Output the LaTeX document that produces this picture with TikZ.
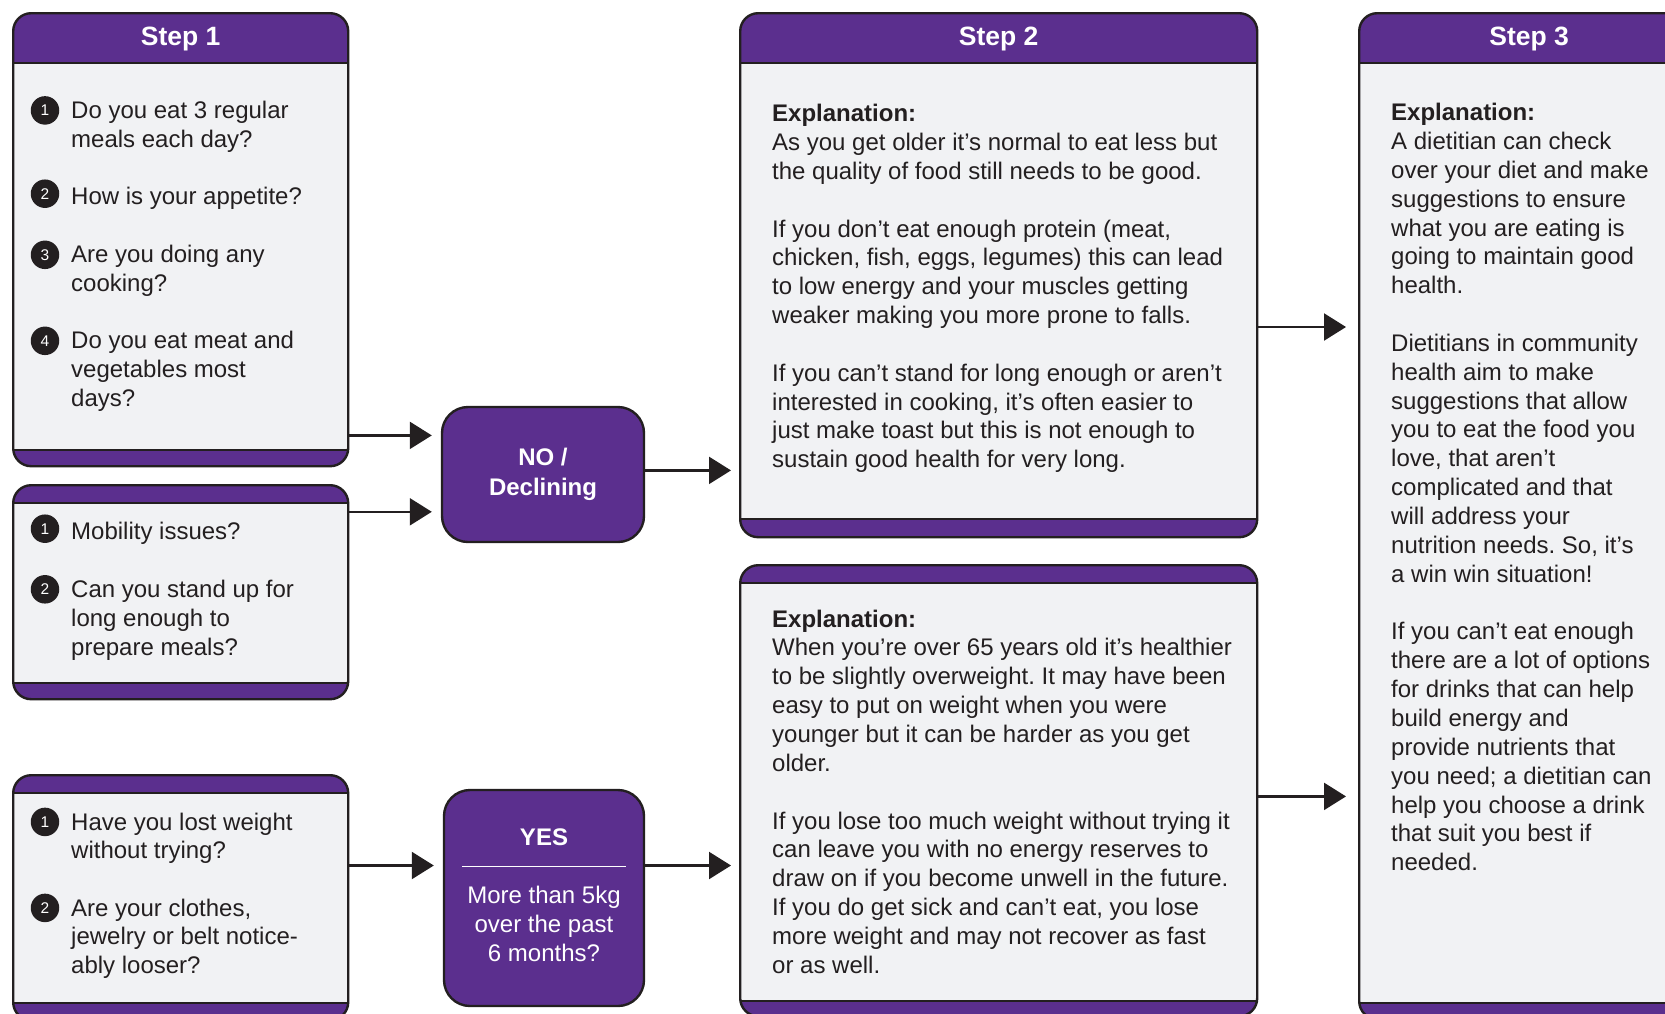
\documentclass[tikz,border=0pt]{standalone}
\usepackage{fontspec}
\setmainfont{Liberation Sans}
\usepackage{tikz}
\definecolor{kbPurple}{HTML}{5B2F8E}
\definecolor{kbBody}{HTML}{F1F2F4}
\definecolor{kbEdge}{HTML}{231F20}
\usetikzlibrary{positioning,arrows.meta}
\frenchspacing

\tikzset{
  top band/.store in=\cardtop, bottom band/.store in=\cardbot,
  card/.style={draw=kbEdge,fill=kbBody,line width=2.4pt,rounded corners=18pt,inner sep=0pt,anchor=north west,top band=18pt,bottom band=16pt,
    path picture={
      \fill[kbPurple,sharp corners] (path picture bounding box.north west) rectangle ([yshift=-\cardtop]path picture bounding box.north east);
      \fill[kbPurple,sharp corners] (path picture bounding box.south west) rectangle ([yshift=\cardbot]path picture bounding box.south east);
      \draw[kbEdge,line width=2pt,sharp corners] ([yshift=-\cardtop]path picture bounding box.north west) -- ([yshift=-\cardtop]path picture bounding box.north east);
      \draw[kbEdge,line width=2pt,sharp corners] ([yshift=\cardbot]path picture bounding box.south west) -- ([yshift=\cardbot]path picture bounding box.south east);
    }},
  num/.style={circle,fill=kbEdge,text=white,minimum size=28.5pt,inner sep=0pt,font=\fontsize{15.5}{15.5}\selectfont},
  item/.style={anchor=north west,align=left,inner sep=0pt,execute at begin node=\strut},
  headtxt/.style={anchor=base,text=white,inner sep=0pt,font=\bfseries\fontsize{26.5}{30}\selectfont},
  decide/.style={draw=kbEdge,fill=kbPurple,line width=2.4pt,rounded corners=26pt,text=white,align=center,inner sep=0pt,font=\bfseries\fontsize{24}{29.7}\selectfont},
  link/.style={->,line width=2.2pt,draw=kbEdge}
}

\begin{document}
\begin{tikzpicture}[x=1pt,y=-1pt,font=\fontsize{24}{28.85}\selectfont,text=kbEdge,>={Triangle[length=22pt,width=27pt]}]
\useasboundingbox[fill=white] (0,0) rectangle (1665,1013);

% panels
\node[card,top band=50pt,minimum width=335pt,minimum height=453pt] (step1) at (12,12) {};
\node[card,minimum width=335pt,minimum height=214pt] (mob) at (12,484) {};
\node[card,bottom band=17pt,minimum width=335pt,minimum height=245pt] (wt) at (12,774) {};
\node[card,top band=50pt,bottom band=18pt,minimum width=517pt,minimum height=524pt] (step2) at (739,12) {};
\node[card,bottom band=15pt,minimum width=517pt,minimum height=451pt] (wtexp) at (739,564) {};
\node[card,top band=50pt,minimum width=340pt,minimum height=1006pt] (step3) at (1358,12) {};

\node[headtxt] (h1) at (step1.north |- 0,45.7) {Step 1};
\node[headtxt] (h2) at (step2.north |- 0,45.7) {Step 2};
\node[headtxt] (h3) at (step3.north |- 0,45.7) {Step 3};

% questions
\node[item] (a1) at (71,100.9) {Do you eat 3 regular\\meals each day?};
\node[item] (a2) at (71,184.2) {How is your appetite?};
\node[item] (a3) at (71,245.3) {Are you doing any\\cooking?};
\node[item] (a4) at (71,331.3) {Do you eat meat and\\vegetables most\\days?};
\node[item] (b1) at (71,519.2) {Mobility issues?};
\node[item] (b2) at (71,579.8) {Can you stand up for\\long enough to\\prepare meals?};
\node[item] (c1) at (71,812.4) {Have you lost weight\\without trying?};
\node[item] (c2) at (71,898.4) {Are your clothes,\\jewelry or belt notice-\\ably looser?};

\node[num] (na1) at ([xshift=-26pt,yshift=-9.5pt]a1.north west) {1};
\node[num] (na2) at ([xshift=-26pt,yshift=-9.5pt]a2.north west) {2};
\node[num] (na3) at ([xshift=-26pt,yshift=-9.5pt]a3.north west) {3};
\node[num] (na4) at ([xshift=-26pt,yshift=-9.5pt]a4.north west) {4};
\node[num] (nb1) at ([xshift=-26pt,yshift=-9.5pt]b1.north west) {1};
\node[num] (nb2) at ([xshift=-26pt,yshift=-9.5pt]b2.north west) {2};
\node[num] (nc1) at ([xshift=-26pt,yshift=-9.5pt]c1.north west) {1};
\node[num] (nc2) at ([xshift=-26pt,yshift=-9.5pt]c2.north west) {2};

% answers
\node[decide,minimum width=202pt,minimum height=135pt] (declining) at (543,474.5) {NO /\\Declining};
\node[decide,minimum width=200pt,minimum height=216pt] (yes) at (544,898) {};
\node[anchor=base,text=white,inner sep=0pt,font=\bfseries\fontsize{24}{28.85}\selectfont] (yeshead) at (yes.center |- 0,845.5) {YES};
\draw[white,line width=1.5pt] (462,866.5) -- (626,866.5);
\node[item,anchor=north,align=center,text=white] (yestxt) at (544,886) {More than 5kg\\over the past\\6 months?};

% explanations
\node[item] (exp2) at (772,104) {\textbf{Explanation:}\\
As you get older it’s normal to eat less but\\
the quality of food still needs to be good.\\[28.85pt]
If you don’t eat enough protein (meat,\\
chicken, fish, eggs, legumes) this can lead\\
to low energy and your muscles getting\\
weaker making you more prone to falls.\\[28.85pt]
If you can’t stand for long enough or aren’t\\
interested in cooking, it’s often easier to\\
just make toast but this is not enough to\\
sustain good health for very long.};
\node[item] (expw) at (772,609.5) {\textbf{Explanation:}\\
When you’re over 65 years old it’s healthier\\
to be slightly overweight. It may have been\\
easy to put on weight when you were\\
younger but it can be harder as you get\\
older.\\[28.85pt]
If you lose too much weight without trying it\\
can leave you with no energy reserves to\\
draw on if you become unwell in the future.\\
If you do get sick and can’t eat, you lose\\
more weight and may not recover as fast\\
or as well.};
\node[item] (exp3) at (1391,103) {\textbf{Explanation:}\\
A dietitian can check\\
over your diet and make\\
suggestions to ensure\\
what you are eating is\\
going to maintain good\\
health.\\[28.85pt]
Dietitians in community\\
health aim to make\\
suggestions that allow\\
you to eat the food you\\
love, that aren’t\\
complicated and that\\
will address your\\
nutrition needs. So, it’s\\
a win win situation!\\[28.85pt]
If you can’t eat enough\\
there are a lot of options\\
for drinks that can help\\
build energy and\\
provide nutrients that\\
you need; a dietitian can\\
help you choose a drink\\
that suit you best if\\
needed.};

% arrows
\draw[link,shorten >=9pt] (step1.east |- 0,435.4) -- (declining.west |- 0,435.4);
\draw[link,shorten >=9pt] (mob.east |- 0,511.8) -- (declining.west |- 0,511.8);
\draw[link,shorten >=8pt] (declining.east |- 0,470.4) -- (step2.west |- 0,470.4);
\draw[link,shorten >=9pt] (wt.east |- 0,865.5) -- (yes.west |- 0,865.5);
\draw[link,shorten >=8pt] (yes.east |- 0,865.5) -- (wtexp.west |- 0,865.5);
\draw[link,shorten >=12pt] (step2.east |- 0,327) -- (step3.west |- 0,327);
\draw[link,shorten >=12pt] (wtexp.east |- 0,796.4) -- (step3.west |- 0,796.4);
\end{tikzpicture}
\end{document}
